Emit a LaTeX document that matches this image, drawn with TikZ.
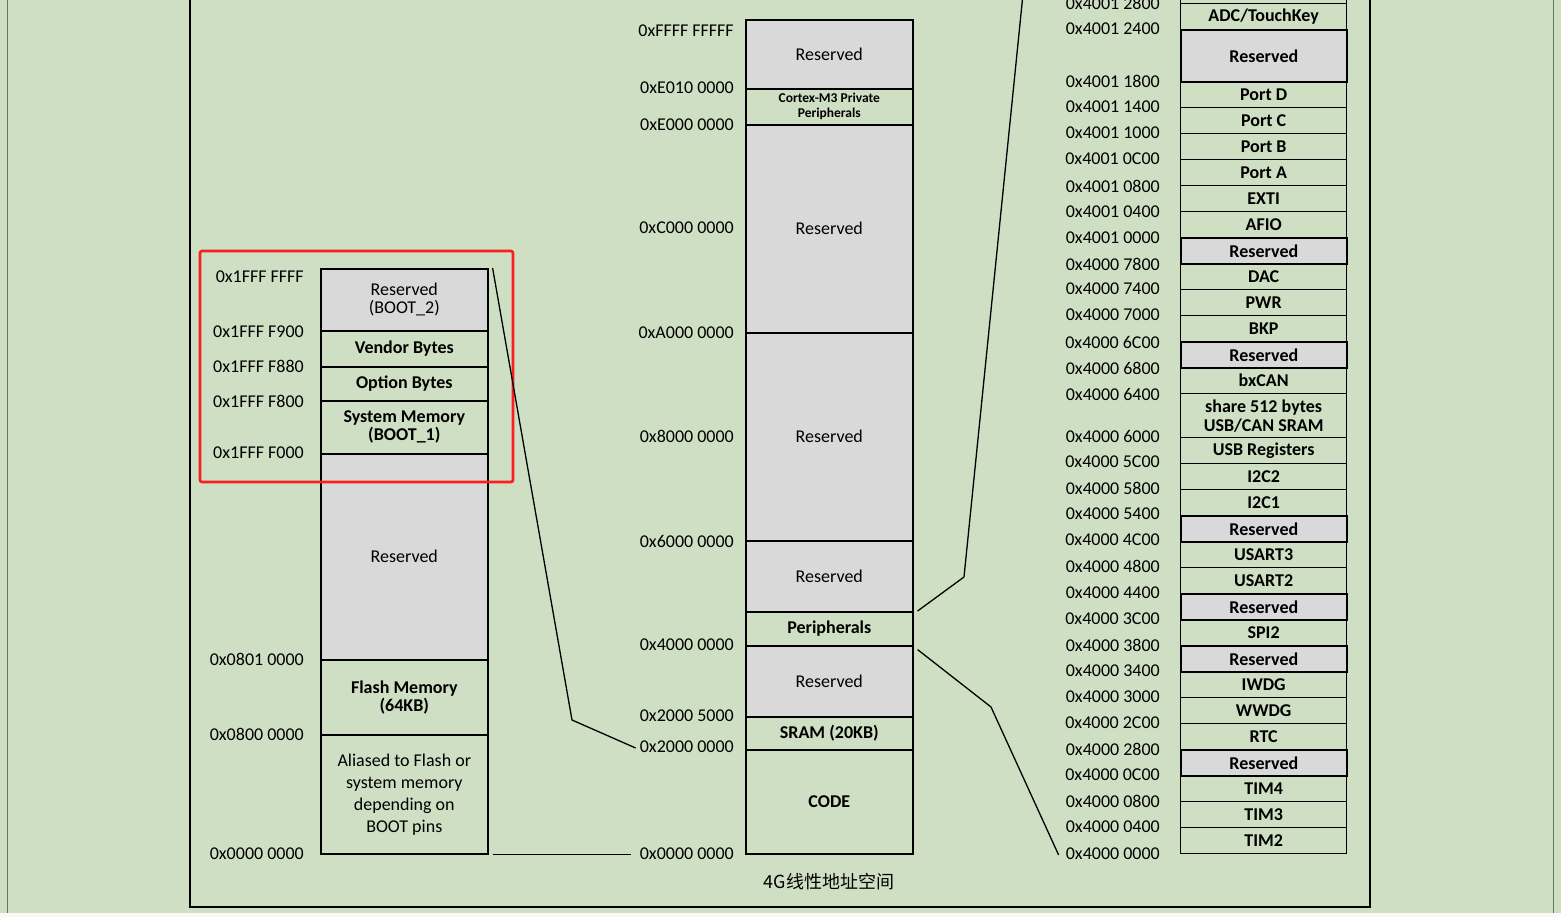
\documentclass[tikz,border=0pt]{standalone}
\usepackage{fontspec}
\setmainfont{Carlito}
\newfontfamily\cjk{Noto Sans CJK SC}
\usetikzlibrary{calc}
\definecolor{bg}{RGB}{207,223,196}
\definecolor{rsv}{RGB}{217,217,217}
\definecolor{edgegray}{RGB}{105,118,100}
\definecolor{frred}{RGB}{250,30,30}
\begin{document}
\begin{tikzpicture}[x=1pt,y=-1pt,
  cellbase/.style={draw=black, line width=1.6pt, inner sep=0pt, align=center, anchor=north west},
  gr/.style={cellbase, fill=rsv, font=\fontsize{18}{18}\selectfont},
  gn/.style={cellbase, font=\fontsize{18}{18}\selectfont},
  bn/.style={cellbase, font=\fontsize{18}{18}\selectfont\bfseries},
  rg/.style={cellbase, line width=1.7pt, fill=rsv, font=\fontsize{18}{19}\selectfont\bfseries},
  rn/.style={cellbase, line width=1.3pt, font=\fontsize{18}{19}\selectfont\bfseries},
  lab/.style={anchor=east, inner sep=0pt, font=\fontsize{18}{18}\selectfont},
  conn/.style={draw=black, line width=1.3pt}]
\clip (0,0) rectangle (1561,917);
\useasboundingbox (0,0) rectangle (1561,917);
\fill[bg] (0,0) rectangle (1561,917);
\fill[white!85!bg] (0,913) rectangle (1561,917);
\draw[edgegray, line width=1pt] (7,-2) -- (7,913);
\draw[edgegray, line width=1pt] (1553,-2) -- (1553,913);
\draw[line width=1.3pt] (190,-5) -- (190,907) -- (1370,907) -- (1370,-5);

% ---------- left column ----------
\foreach \ya/\yb/\s/\t [count=\i] in {
  268/330/gr/{Reserved\\(BOOT\_2)},
  330/366/bn/{Vendor Bytes},
  366/400/bn/{Option Bytes},
  400/453/bn/{System Memory\\(BOOT\_1)},
  453/659/gr/{Reserved},
  659/734/bn/{Flash Memory\\(64KB)}}
  \node[\s, minimum width=167pt, minimum height={(\yb-\ya)*1pt}] (L\i) at (320,\ya) {\t};
\node[gn, font=\fontsize{18}{22}\selectfont, minimum width=167pt, minimum height=119pt] (L7) at (320,734)
  {Aliased to Flash or\\system memory\\depending on\\BOOT pins};

\foreach \y/\t [count=\i] in {277/0x1FFF FFFF, 332/0x1FFF F900, 366/0x1FFF F880, 401/0x1FFF F800,
  453/0x1FFF F000, 659/0x0801 0000, 734/0x0800 0000, 854/0x0000 0000}
  \node[lab] (LA\i) at (304,\y) {\t};

\draw[frred, line width=2.6pt, rounded corners=2pt] (200,251) rectangle (513,482);

% ---------- middle column ----------
\foreach \ya/\yb/\s/\t [count=\i] in {
  19/88/gr/{Reserved},
  124/332/gr/{Reserved},
  332/540/gr/{Reserved},
  540/611/gr/{Reserved},
  645/716/gr/{Reserved},
  716/749/bn/{SRAM (20KB)},
  749/853/bn/{CODE}}
  \node[\s, minimum width=167pt, minimum height={(\yb-\ya)*1pt}] (M\i) at (745,\ya) {\t};
\node[bn, font=\fontsize{13.5}{15}\selectfont\bfseries, minimum width=167pt, minimum height=36pt] (Mcortex) at (745,88)
  {Cortex-M3 Private\\Peripherals};
\node[bn, minimum width=167pt, minimum height=34pt] (Mper) at (745,611) {Peripherals};

\foreach \y/\t [count=\i] in {31/0xFFFF FFFFF, 88/0xE010 0000, 125/0xE000 0000, 228/0xC000 0000,
  333/0xA000 0000, 436/0x8000 0000, 541/0x6000 0000, 645/0x4000 0000, 716/0x2000 5000,
  747/0x2000 0000, 854/0x0000 0000}
  \node[lab] (MA\i) at (734,\y) {\t};

\node[inner sep=0pt, font=\cjk\fontsize{18}{18}\selectfont] (cap) at (829,882) {4G线性地址空间};

% ---------- right column ----------
\foreach \ya/\yb/\s/\t [count=\i] in {
  -20/3/rn/{},
  3/29/rn/{ADC\slash TouchKey},
  29/81/rg/{Reserved},
  81/107/rn/{Port D},
  107/133/rn/{Port C},
  133/159/rn/{Port B},
  159/185/rn/{Port A},
  185/211/rn/{EXTI},
  211/237/rn/{AFIO},
  237/263/rg/{Reserved},
  263/289/rn/{DAC},
  289/315/rn/{PWR},
  315/341/rn/{BKP},
  341/367/rg/{Reserved},
  367/393/rn/{bxCAN},
  393/437/rn/{share 512 bytes\\USB\slash CAN SRAM},
  437/463/rn/{USB Registers},
  463/489/rn/{I2C2},
  489/515/rn/{I2C1},
  515/541/rg/{Reserved},
  541/567/rn/{USART3},
  567/593/rn/{USART2},
  593/619/rg/{Reserved},
  619/645/rn/{SPI2},
  645/671/rg/{Reserved},
  671/697/rn/{IWDG},
  697/723/rn/{WWDG},
  723/749/rn/{RTC},
  749/775/rg/{Reserved},
  775/801/rn/{TIM4},
  801/827/rn/{TIM3},
  827/853/rn/{TIM2}}
  \node[\s, minimum width=166pt, minimum height={(\yb-\ya)*1pt}] (R\i) at (1180,\ya) {\t};

\foreach \y/\t [count=\i] in {3/0x4001 2800, 29/0x4001 2400, 81/0x4001 1800, 107/0x4001 1400,
  133/0x4001 1000, 159/0x4001 0C00, 186/0x4001 0800, 212/0x4001 0400, 238/0x4001 0000,
  264/0x4000 7800, 289/0x4000 7400, 315/0x4000 7000, 342/0x4000 6C00, 368/0x4000 6800,
  394/0x4000 6400, 436/0x4000 6000, 462/0x4000 5C00, 488/0x4000 5800, 514/0x4000 5400,
  540/0x4000 4C00, 566/0x4000 4800, 593/0x4000 4400, 619/0x4000 3C00, 645/0x4000 3800,
  671/0x4000 3400, 697/0x4000 3000, 723/0x4000 2C00, 749/0x4000 2800, 775/0x4000 0C00,
  801/0x4000 0800, 827/0x4000 0400, 854/0x4000 0000}
  \node[lab] (RA\i) at (1160,\y) {\t};

% ---------- connectors ----------
\coordinate (k1) at (572,720);
\coordinate (k2) at (964,577);
\coordinate (k3) at (991,707);
\coordinate (ktop) at (1023,-6);
\draw[conn] ($(L1.north east)+(4,0)$) -- (k1) -- ($(MA10.west)+(-4,1)$);
\draw[conn] ($(L7.south east)+(4,0)$) -- ($(L7.south east -| MA11.west)+(-9,0)$);
\draw[conn] ($(Mper.north east)+(4,0)$) -- (k2) -- (ktop);
\draw[conn] ($(Mper.south east)+(4,3)$) -- (k3) -- ($(RA32.west)+(-7,1)$);
\end{tikzpicture}
\end{document}
